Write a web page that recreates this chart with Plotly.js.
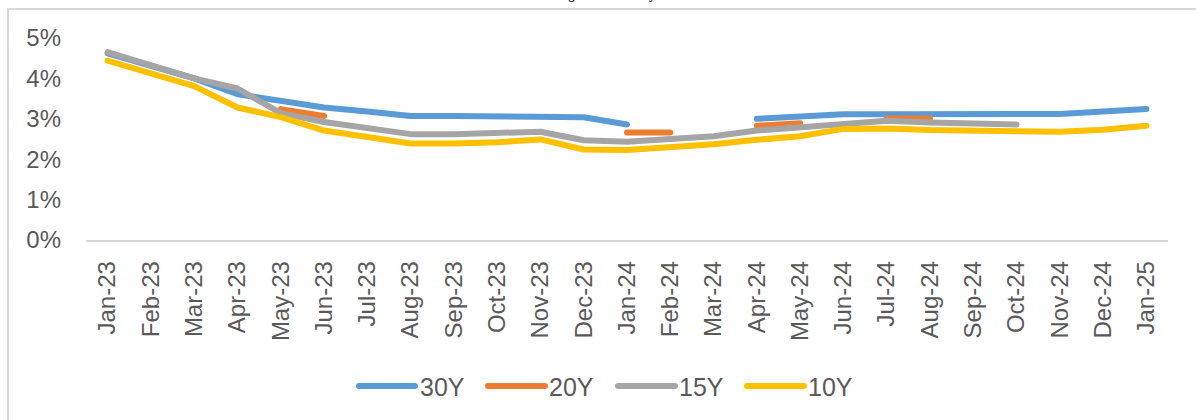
<!DOCTYPE html>
<html>
<head>
<meta charset="utf-8">
<script src="https://cdn.plot.ly/plotly-3.0.1.min.js"></script>
<style>
html, body { margin: 0; padding: 0; background: #fff; overflow: hidden; }
#frame { position: absolute; left: 7px; top: 8px; width: 1300px; height: 500px;
  border-left: 2px solid #d9d9d9; border-top: 2px solid #d9d9d9; pointer-events: none; z-index: 2; }
#chart { position: absolute; left: 0; top: 0; width: 1196px; height: 420px; }
.scatterlayer .js-line, .shapelayer path { stroke-linecap: round !important; stroke-linejoin: round !important; }
</style>
</head>
<body>
<div id="chart"></div>
<div id="frame"></div>
<script>
const months = ['Jan-23','Feb-23','Mar-23','Apr-23','May-23','Jun-23','Jul-23','Aug-23','Sep-23','Oct-23','Nov-23','Dec-23',
  'Jan-24','Feb-24','Mar-24','Apr-24','May-24','Jun-24','Jul-24','Aug-24','Sep-24','Oct-24','Nov-24','Dec-24','Jan-25'];
const y30 = [4.62, 4.30, 4.00, 3.61, 3.44, 3.28, 3.18, 3.07, 3.07, 3.07, 3.07, 3.04, 2.86, null, null, 3.00, 3.07, 3.11, 3.11, 3.11, 3.11, 3.11, 3.12, 3.18, 3.24];
const y20 = [null, null, null, null, 3.24, 3.07, null, null, null, null, null, null, 2.66, 2.66, null, 2.83, 2.89, null, 3.01, 3.01, null, null, null, null, null];
const y15 = [4.65, 4.32, 4.00, 3.75, 3.14, 2.92, 2.77, 2.62, 2.62, 2.64, 2.68, 2.47, 2.43, 2.50, 2.57, 2.71, 2.80, 2.89, 2.95, 2.91, 2.90, 2.86, null, null, null];
const y10 = [4.44, 4.12, 3.81, 3.28, 3.04, 2.71, 2.54, 2.39, 2.39, 2.42, 2.49, 2.24, 2.23, 2.29, 2.37, 2.48, 2.57, 2.75, 2.76, 2.72, 2.71, 2.67, 2.68, 2.73, 2.83];
const seriesNames = ['30Y', '20Y', '15Y', '10Y'];
const colors = ['#5B9BD5', '#ED7D31', '#A5A5A5', '#FFC000'];
const titleText = 'Average Bond Yield by Tenor';

const W = 1196, H = 420;
const mL = 86, mR = 28, mT = 38, mB = 180;
const pw = W - mL - mR, ph = H - mT - mB;
const px = x => (x - mL) / pw;
const py = y => (H - mB - y) / ph;

const allY = [y30, y20, y15, y10];
const traces = allY.map((ys, i) => ({
  x: months, y: ys, type: 'scatter', mode: 'lines', name: seriesNames[i],
  line: { color: colors[i], width: 6 }, connectgaps: false, hoverinfo: 'x+y+name'
}));

// custom legend (long line swatches like the original)
const legendItems = [
  { x0: 359, x1: 415, tx: 418 },
  { x0: 488, x1: 545, tx: 547 },
  { x0: 618, x1: 675, tx: 677 },
  { x0: 747, x1: 804, tx: 806 }
];
const legY = 386;
const shapes = legendItems.map((it, i) => ({
  type: 'line', xref: 'paper', yref: 'paper',
  x0: px(it.x0), x1: px(it.x1), y0: py(legY), y1: py(legY),
  line: { color: colors[i], width: 6 }
}));
const annotations = legendItems.map((it, i) => ({
  xref: 'paper', yref: 'paper', x: px(it.tx), y: py(legY + 1),
  xanchor: 'left', yanchor: 'middle', showarrow: false, text: seriesNames[i],
  font: { family: 'Liberation Sans, Arial, sans-serif', size: 25, color: '#595959' }
}));
annotations.push({
  xref: 'paper', yref: 'paper', x: px(613), y: py(4), xanchor: 'center', yanchor: 'bottom',
  showarrow: false, text: '<b>' + titleText + '</b>',
  font: { family: 'Liberation Serif, Times New Roman, serif', size: 12, color: '#000' }
});

const layout = {
  width: W, height: H,
  margin: { l: mL, r: mR, t: mT, b: mB, pad: 0 },
  paper_bgcolor: '#fff', plot_bgcolor: '#fff',
  showlegend: false,
  font: { family: 'Liberation Sans, Arial, sans-serif', color: '#595959', size: 22 },
  xaxis: {
    type: 'category', range: [-0.5, 24.5], tickangle: -90,
    showgrid: false, zeroline: false, showline: true, linecolor: '#d9d9d9', linewidth: 1.5,
    ticks: '', ticklabelstandoff: 10,
    tickfont: { family: 'Liberation Sans, Arial, sans-serif', size: 24, color: '#595959' }
  },
  yaxis: {
    range: [0, 5], dtick: 1, tick0: 0, ticksuffix: '%',
    showgrid: false, zeroline: false, showline: false, ticks: '', ticklabelstandoff: 24,
    tickfont: { family: 'Liberation Sans, Arial, sans-serif', size: 24, color: '#595959' }
  },
  shapes: shapes,
  annotations: annotations
};

Plotly.newPlot('chart', traces, layout, { displayModeBar: false, staticPlot: true });
</script>
</body>
</html>
